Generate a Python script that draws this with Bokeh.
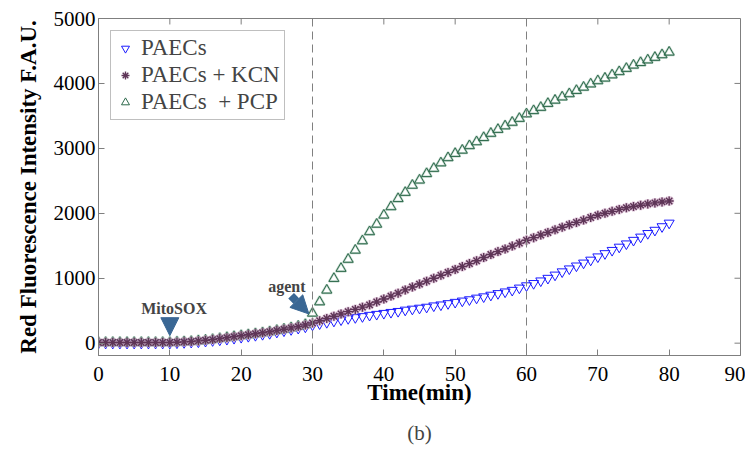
from bokeh.plotting import figure
from bokeh.models import (Range1d, Span, Legend, LegendItem, Label,
                          Arrow, NormalHead, Title, FixedTicker)
from bokeh.embed import file_html
from bokeh.resources import INLINE

# ---- data ----
time_min = list(range(0, 81))

paecs = [0, 0, 0, 0, 0, 0, 0, 0, 0, 0, 0, 5, 10, 15, 20, 30, 40, 50, 60, 75,
         90, 105, 120, 135, 150, 170, 190, 210, 230, 250,
         280, 300, 320, 340, 360, 380, 395, 410, 430, 445,
         460, 475, 490, 510, 525, 540, 555, 575, 590, 610,
         630, 650, 670, 695, 715, 740, 765, 790, 815, 850,
         885, 920, 960, 1000, 1050, 1100, 1145, 1190, 1235, 1280,
         1330, 1380, 1430, 1480, 1530, 1585, 1635, 1690, 1740, 1795, 1850]

paecs_kcn = [10, 10, 10, 10, 10, 10, 10, 10, 10, 10, 10, 15, 20, 25, 35, 45, 55, 70, 85, 100,
             115, 130, 145, 160, 175, 195, 215, 235, 255, 280,
             310, 345, 380, 415, 450, 485, 520, 555, 590, 635,
             680, 725, 770, 820, 865, 910, 955, 1000, 1045, 1090,
             1135, 1180, 1225, 1270, 1320, 1365, 1410, 1450, 1495, 1540,
             1585, 1625, 1665, 1705, 1745, 1785, 1825, 1860, 1895, 1935,
             1970, 2000, 2030, 2060, 2085, 2105, 2125, 2145, 2160, 2175, 2190]

paecs_pcp = [10, 10, 10, 10, 10, 10, 10, 10, 10, 10, 10, 15, 20, 25, 35, 45, 55, 70, 85, 100,
             115, 130, 145, 160, 175, 195, 215, 235, 260, 285,
             460, 635, 815, 995, 1150, 1290, 1430, 1575, 1715, 1830,
             1970, 2100, 2225, 2320, 2430, 2510, 2610, 2690, 2775, 2855,
             2920, 2970, 3040, 3100, 3165, 3230, 3290, 3345, 3400, 3460,
             3530, 3580, 3630, 3690, 3740, 3790, 3840, 3890, 3940, 3990,
             4040, 4080, 4130, 4180, 4230, 4280, 4320, 4360, 4400, 4440, 4480]

series_labels = ["PAECs", "PAECs + KCN", "PAECs  + PCP"]
x_ticks = [0, 10, 20, 30, 40, 50, 60, 70, 80, 90]
y_ticks = [0, 1000, 2000, 3000, 4000, 5000]
event_times = [30, 60]

X_MIN, X_MAX = 0, 90
Y_MIN, Y_MAX = -190, 5000

SERIF = "Liberation Serif"
AX_GRAY = "#7f7f7f"
ARROW_BLUE = "#3a6794"

p = figure(width=745, height=456, output_backend="svg", toolbar_location=None,
           x_range=Range1d(X_MIN, X_MAX), y_range=Range1d(Y_MIN, Y_MAX),
           min_border_left=98, min_border_right=5, min_border_top=18, min_border_bottom=101)
p.outline_line_color = AX_GRAY
p.xgrid.visible = False
p.ygrid.visible = False
p.background_fill_color = "white"

xa = p.xaxis[0]
ya = p.yaxis[0]
xa.ticker = FixedTicker(ticks=x_ticks)
ya.ticker = FixedTicker(ticks=y_ticks)
for ax in (xa, ya):
    ax.axis_line_color = AX_GRAY
    ax.major_tick_line_color = AX_GRAY
    ax.minor_tick_line_color = None
    ax.major_tick_in = 6
    ax.major_tick_out = 0
    ax.major_label_text_font = SERIF
    ax.major_label_text_font_size = "21px"
    ax.major_label_text_color = "black"
    ax.axis_label_text_font = SERIF
    ax.axis_label_text_font_style = "bold"
    ax.axis_label_text_font_size = "23px"
    ax.axis_label_text_color = "black"
xa.major_label_standoff = 11
ya.major_label_standoff = 3
xa.axis_label = "Time(min)"
ya.axis_label = "Red Fluorescence Intensity F.A.U."
xa.axis_label_standoff = -4
ya.axis_label_standoff = 10

# inward ticks on the top and right edges of the box
TICK_X = 6 / 7.13   # 6 px in data units along x
TICK_Y = 6 / 0.065  # 6 px in data units along y
p.segment(x0=x_ticks, y0=[Y_MAX] * len(x_ticks), x1=x_ticks,
          y1=[Y_MAX - TICK_Y] * len(x_ticks), line_color=AX_GRAY, line_width=1)
p.segment(x0=[X_MAX] * len(y_ticks), y0=y_ticks, x1=[X_MAX - TICK_X] * len(y_ticks),
          y1=y_ticks, line_color=AX_GRAY, line_width=1)

for t in event_times:
    p.add_layout(Span(location=t, dimension="height", line_color="#808080",
                      line_width=1, line_dash="8 5"))

r_blue = p.scatter(time_min, paecs, marker="inverted_triangle", size=10,
                   fill_color=None, line_color="#1a1aff", line_width=1)
p.scatter(time_min, paecs_pcp, marker="triangle", size=10,
          fill_color=None, line_color="#8fb5a2", line_width=2.2, line_alpha=0.6)
r_green = p.scatter(time_min, paecs_pcp, marker="triangle", size=10,
                    fill_color=None, line_color="#2e6a4c", line_width=1)
p.scatter(time_min, paecs_kcn, marker="asterisk", size=10,
          line_color="#cfa9c6", line_width=3, line_alpha=0.7)
r_purple = p.scatter(time_min, paecs_kcn, marker="asterisk", size=9,
                     line_color="#5e3557", line_width=1.4)

legend = Legend(items=[LegendItem(label=series_labels[0], renderers=[r_blue]),
                       LegendItem(label=series_labels[1], renderers=[r_purple]),
                       LegendItem(label=series_labels[2], renderers=[r_green])],
                location="top_left", margin=12, padding=4, spacing=1,
                glyph_width=20, label_standoff=6,
                label_text_font=SERIF, label_text_font_size="23px",
                border_line_color="#808080", border_line_width=1,
                background_fill_alpha=1.0)
p.add_layout(legend)

# annotations
p.add_layout(Label(x=10.6, y=540, text="MitoSOX", text_font=SERIF, text_font_size="16px",
                   text_font_style="bold", text_align="center", text_baseline="middle"))
p.add_layout(Label(x=26.4, y=865, text="agent", text_font=SERIF, text_font_size="16px",
                   text_font_style="bold", text_align="center", text_baseline="middle"))
p.add_layout(Arrow(x_start=10, y_start=390, x_end=10, y_end=115,
                   line_color=ARROW_BLUE, line_width=8,
                   end=NormalHead(size=18, fill_color=ARROW_BLUE, line_color=ARROW_BLUE)))
p.add_layout(Arrow(x_start=27.0, y_start=730, x_end=29.5, y_end=450,
                   line_color=ARROW_BLUE, line_width=8,
                   end=NormalHead(size=18, fill_color=ARROW_BLUE, line_color=ARROW_BLUE)))

# sub-figure caption below the axis
p.add_layout(Title(text="(b)", align="center", text_font=SERIF, text_font_size="21px",
                   text_font_style="normal", standoff=22), "below")

open("out.html", "w").write(file_html(p, INLINE))
